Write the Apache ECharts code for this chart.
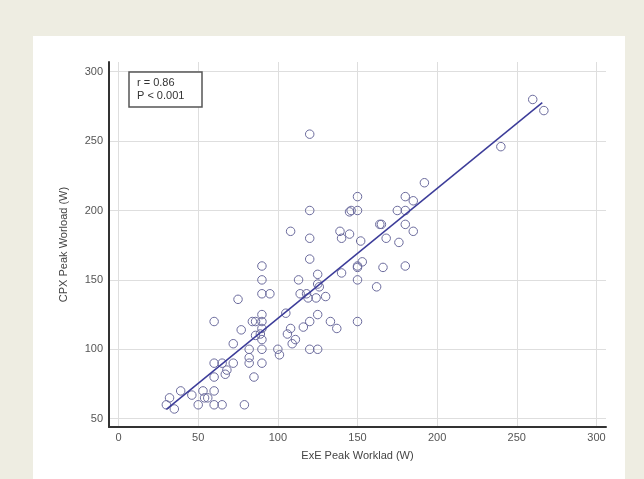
<!DOCTYPE html>
<html>
<head>
<meta charset="utf-8">
<script src="https://cdn.jsdelivr.net/npm/echarts@6/dist/echarts.min.js"></script>
<style>
  html, body { margin: 0; padding: 0; }
  #page { position: relative; width: 644px; height: 479px; background: #eeede2; overflow: hidden; }
  #panel { position: absolute; left: 33px; top: 36px; width: 592px; height: 443px; background: #ffffff; }
  #chart { position: absolute; left: 0; top: 0; width: 644px; height: 479px; }
</style>
</head>
<body>
<div id="page">
  <div id="panel"></div>
  <div id="chart"></div>
</div>
<script>
// ExE peak workload (W) vs CPX peak workload (W)
var exeWork = [
  260, 267, 240, 192, 180, 185, 175, 180, 164, 165, 180, 185, 168, 176, 180, 166, 162,
  150, 145, 146, 150, 139, 140, 145, 152, 140, 153, 150, 150, 150, 150, 133, 137,
  125, 125, 126, 130, 124, 119, 118, 114, 113, 108, 120, 120, 120, 120, 125, 120,
  120, 125, 116, 108, 106, 111, 109, 105, 100, 101,
  90, 90, 90, 95, 75, 90, 84, 86, 90, 90, 89, 77, 86, 90, 72, 82, 90, 82, 82, 90,
  72, 85, 60, 65, 60, 60, 68, 67, 60, 53, 54, 56, 50, 60, 65, 79, 46, 39, 32, 30, 35
];
var cpxWork = [
  280, 272, 246, 220, 210, 207, 200, 200, 190, 190, 190, 185, 180, 177, 160, 159, 145,
  210, 199, 200, 200, 185, 180, 183, 178, 155, 163, 160, 159, 150, 120, 120, 115,
  154, 147, 145, 138, 137, 137, 140, 140, 150, 185, 200, 180, 165, 255, 125, 120,
  100, 100, 116, 115, 111, 107, 104, 126, 100, 96,
  160, 150, 140, 140, 136, 125, 120, 120, 120, 115, 111, 114, 110, 107, 104, 100, 100, 94, 90, 90,
  90, 80, 120, 90, 90, 80, 85, 82, 70, 70, 65, 65, 60, 60, 60, 60, 67, 70, 65, 60, 57
];
// fitted regression line end points
var fitX = [30, 266];
var fitY = [56.7, 277.7];

var xTicks = [0, 50, 100, 150, 200, 250, 300];
var yTicks = [50, 100, 150, 200, 250, 300];

var points = exeWork.map(function (v, i) { return [v, cpxWork[i]]; });
var fitLine = fitX.map(function (v, i) { return [v, fitY[i]]; });

var chart = echarts.init(document.getElementById('chart'), null, { renderer: 'canvas' });
var axisFont = 'Liberation Sans, Arial, sans-serif';

chart.setOption({
  backgroundColor: 'transparent',
  animation: false,
  title: {
    text: 'r = 0.86\nP < 0.001',
    left: 129,
    top: 72,
    padding: [4, 18, 4, 8],
    borderColor: '#555555',
    borderWidth: 1.5,
    backgroundColor: '#ffffff',
    textStyle: {
      fontFamily: axisFont,
      fontSize: 11,
      fontWeight: 'normal',
      color: '#333333',
      lineHeight: 13.5
    }
  },
  grid: {
    left: 109,
    right: 38,
    top: 62,
    bottom: 52
  },
  xAxis: {
    type: 'value',
    min: -6,
    max: 306,
    name: 'ExE Peak Worklad (W)',
    nameLocation: 'middle',
    nameGap: 23,
    nameTextStyle: { fontFamily: axisFont, fontSize: 11, color: '#444444' },
    axisLine: { onZero: false, lineStyle: { color: '#333333', width: 2 } },
    axisTick: { show: false, customValues: xTicks },
    axisLabel: { customValues: xTicks, margin: 5, fontFamily: axisFont, fontSize: 11, color: '#555555' },
    splitLine: { show: true, lineStyle: { color: '#dedede', width: 1 } }
  },
  yAxis: {
    type: 'value',
    min: 44,
    max: 307,
    name: 'CPX Peak Worload (W)',
    nameLocation: 'middle',
    nameGap: 40,
    nameTextStyle: { fontFamily: axisFont, fontSize: 11, color: '#444444' },
    axisLine: { show: true, onZero: false, lineStyle: { color: '#333333', width: 2 } },
    axisTick: { show: false, customValues: yTicks },
    axisLabel: { customValues: yTicks, margin: 6, fontFamily: axisFont, fontSize: 11, color: '#555555' },
    splitLine: { show: true, lineStyle: { color: '#dedede', width: 1 } }
  },
  series: [
    {
      name: 'Patients',
      type: 'scatter',
      data: points,
      symbol: 'circle',
      symbolSize: 8.5,
      itemStyle: { color: 'rgba(255,255,255,0)', borderColor: '#6a6a9c', borderWidth: 1, opacity: 1 },
      z: 3
    },
    {
      name: 'Fit',
      type: 'line',
      data: fitLine,
      showSymbol: false,
      symbol: 'none',
      lineStyle: { color: '#3c3c99', width: 1.5 },
      z: 4
    }
  ]
});
</script>
</body>
</html>
